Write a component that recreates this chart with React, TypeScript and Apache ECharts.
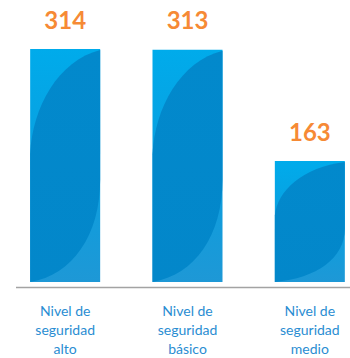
import React, { useEffect, useRef } from "react";
import * as echarts from "echarts";

const categories = ["Nivel de seguridad alto", "Nivel de seguridad básico", "Nivel de seguridad medio"];
const values = [314, 313, 163];

const BAR_W = 70;

export default function App() {
  const ref = useRef<HTMLDivElement>(null);
  useEffect(() => {
    if (!ref.current) return;
    const chart = echarts.init(ref.current, null, { renderer: "svg" });
    const H = 358;
    const gridBottom = 71;
    chart.setOption({
      animation: false,
      grid: { left: 4, right: 0, top: 49, bottom: gridBottom, containLabel: false },
      xAxis: {
        type: "category",
        data: categories,
        axisLine: { show: false },
        axisTick: { show: false },
        axisLabel: {
          margin: 19,
          color: "#2A8DD2",
          fontFamily: "Lato",
          fontSize: 14,
          lineHeight: 19,
          interval: 0,
          formatter: (v: string) => v.replace(" seguridad ", "\nseguridad\n"),
        },
      },
      yAxis: { type: "value", min: 0, max: "dataMax", show: false, splitLine: { show: false } },
      series: [
        {
          type: "bar",
          data: values,
          barWidth: BAR_W,
          itemStyle: {
            color: new echarts.graphic.LinearGradient(0, 0, 0, 1, [
              { offset: 0, color: "#00ABEB" },
              { offset: 0.5, color: "#0A9FDF" },
              { offset: 1, color: "#1E98D6" },
            ]),
          },
          label: {
            show: true,
            position: "top",
            distance: 18,
            color: "#F68A35",
            fontFamily: "Lato",
            fontWeight: "bold",
            fontSize: 24,
          },
          z: 2,
        },
        {
          type: "custom",
          data: values.map((v, i) => [i, v]),
          z: 3,
          silent: true,
          renderItem: (params: any, api: any) => {
            const i = api.value(0);
            const v = api.value(1);
            const top = api.coord([i, v]);
            const bot = api.coord([i, 0]);
            const x0 = top[0] - BAR_W / 2;
            const y0 = top[1];
            const w = BAR_W;
            const h = bot[1] - top[1];
            const d =
              `M ${x0 + w} ${y0 + 1} ` +
              `C ${x0 + 0.4 * w} ${y0 + 0.05 * h} ${x0 + 0.03 * w} ${y0 + 0.25 * h} ${x0} ${y0 + 0.45 * h} ` +
              `L ${x0} ${y0 + h} ` +
              `C ${x0 + 0.6 * w} ${y0 + 0.97 * h} ${x0 + w} ${y0 + 0.8 * h} ${x0 + w} ${y0 + 0.56 * h} Z`;
            return {
              type: "path",
              shape: { pathData: d },
              style: {
                fill: new echarts.graphic.LinearGradient(0, 0, 0, 1, [
                  { offset: 0, color: "#0289CC" },
                  { offset: 1, color: "#0387CA" },
                ]),
              },
            };
          },
        },
      ],
      graphic: [
        {
          type: "line",
          shape: { x1: 16, y1: H - gridBottom + 0.5, x2: 350, y2: H - gridBottom + 0.5 },
          style: { stroke: "#A3A3A3", lineWidth: 1.5 },
          z: 10,
        },
      ],
    });
    return () => chart.dispose();
  }, []);
  return (
    <div style={{ position: "absolute", left: 0, top: 0, width: 350, height: 358, overflow: "hidden" }}>
      <div ref={ref} style={{ width: 371, height: 358 }} />
    </div>
  );
}
